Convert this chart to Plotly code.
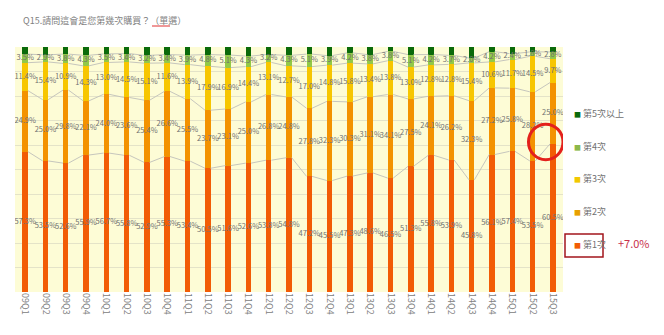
import plotly.graph_objects as go

# Quarterly survey: share of respondents by purchase count (stacked to 100%)
quarters = ["09Q1", "09Q2", "09Q3", "09Q4", "10Q1", "10Q2", "10Q3", "10Q4",
            "11Q1", "11Q2", "11Q3", "11Q4", "12Q1", "12Q2", "12Q3", "12Q4",
            "13Q1", "13Q2", "13Q3", "13Q4", "14Q1", "14Q2", "14Q3", "14Q4",
            "15Q1", "15Q2", "15Q3"]

first = [57.3, 53.5, 52.6, 55.9, 56.7, 55.8, 52.9, 55.3, 53.4, 50.5, 51.6, 52.6, 53.8, 54.8,
         47.2, 45.5, 47.3, 48.6, 46.5, 51.3, 55.8, 53.9, 45.8, 56.1, 57.4, 53.5, 60.5]
second = [24.9, 25.0, 29.8, 22.1, 24.0, 23.6, 25.4, 26.6, 25.5, 23.7, 23.1, 25.0, 26.8, 24.8,
          27.8, 32.3, 30.3, 31.1, 34.1, 27.5, 24.1, 26.2, 32.3, 27.2, 25.8, 28.2, 25.0]
third = [11.4, 15.4, 10.9, 14.3, 13.0, 14.5, 15.1, 11.6, 13.9, 17.9, 16.9, 14.4, 13.1, 12.7,
         17.0, 14.8, 15.8, 13.4, 13.8, 13.0, 12.8, 12.8, 15.4, 10.6, 11.7, 14.5, 9.7]
fourth = [3.5, 2.9, 3.8, 4.3, 3.5, 3.4, 3.2, 3.4, 3.9, 4.8, 5.1, 4.3, 3.2, 4.3,
          5.1, 3.9, 4.2, 3.8, 3.8, 5.1, 4.2, 3.7, 2.0, 4.2, 2.4, 1.8, 2.8]
fifth_plus = [2.9, 3.2, 2.9, 3.4, 2.8, 2.7, 3.4, 3.1, 3.3, 3.1, 3.3, 3.7, 3.1, 3.4,
              2.9, 3.5, 2.4, 3.1, 1.8, 3.1, 3.1, 3.4, 4.5, 1.9, 2.7, 2.0, 2.0]

series_names = ["第1次", "第2次", "第3次", "第4次", "第5次以上"]
series_vals = [first, second, third, fourth, fifth_plus]
series_colors = ["#F25C05", "#F39200", "#F7C600", "#92C848", "#0A6A0A"]
legend_colors = ["#F25C05", "#E8A000", "#F2C800", "#8CB84A", "#0A6A0A"]

FONT = "Noto Sans CJK TC"
W, H = 664, 335
ML, MR, MT, MB = 15, 101, 47, 43
PW, PH = W - ML - MR, H - MT - MB


def px_x(px):
    return (px - ML) / PW


def px_y(py):
    return (H - MB - py) / PH


n = len(quarters)
xs = list(range(n))
bar_w = 0.27

fig = go.Figure()

# stacked bars
for name, vals, col in zip(series_names, series_vals, series_colors):
    fig.add_bar(x=xs, y=vals, width=bar_w, name=name, marker=dict(color=col, line=dict(width=0)),
                showlegend=False, hoverinfo="skip")

# cumulative boundaries
bases, tops = [], []
run = [0.0] * n
for vals in series_vals:
    bases.append(run)
    run = [r + v for r, v in zip(run, vals)]
    tops.append(run)

# series lines joining segment boundaries between neighbouring bars
for top in tops[:-1]:
    lx, ly = [], []
    for i in range(n - 1):
        lx += [i + bar_w / 2, i + 1 - bar_w / 2, None]
        ly += [top[i], top[i + 1], None]
    fig.add_scatter(x=lx, y=ly, mode="lines", line=dict(color="#c6c6bd", width=1),
                    hoverinfo="skip", showlegend=False)

# percentage labels at segment centres (top segment unlabeled)
for k in range(4):
    vals = series_vals[k]
    fig.add_scatter(x=xs, y=[b + v / 2 for b, v in zip(bases[k], vals)], mode="text",
                    text=[f"{v:.1f}%" for v in vals], textposition="middle center",
                    textfont=dict(family=FONT, size=7.5, color="#707070"),
                    hoverinfo="skip", showlegend=False)

annotations = []
shapes = []

# title
annotations.append(dict(text="Q15.請問這會是您第幾次購買？（單選）", xref="paper", yref="paper",
                        x=px_x(21), y=px_y(20), xanchor="left", yanchor="middle", showarrow=False,
                        font=dict(family=FONT, size=9, color="#808080")))
shapes.append(dict(type="line", xref="paper", yref="paper", x0=px_x(152), x1=px_x(170),
                   y0=px_y(26), y1=px_y(26), line=dict(color="#E03030", width=1)))

# legend entries, top to bottom: 第5次以上 ... 第1次
for k, (name, col) in enumerate(zip(series_names, legend_colors)):
    annotations.append(dict(
        text=f"<span style='color:{col};font-size:7px'>■</span> {name}",
        xref="paper", yref="paper", x=px_x(572), y=px_y(244.3 - 32.7 * k),
        xanchor="left", yanchor="middle", showarrow=False,
        font=dict(family=FONT, size=9, color="#707070")))

# highlight box on 第1次 and its latest change
shapes.append(dict(type="rect", xref="paper", yref="paper", x0=px_x(565), x1=px_x(603),
                   y0=px_y(257), y1=px_y(234), line=dict(color="#A3161C", width=1.5)))
change = first[-1] - first[-2]
annotations.append(dict(text=f"{change:+.1f}%", xref="paper", yref="paper",
                        x=px_x(616), y=px_y(243), xanchor="left", yanchor="middle",
                        showarrow=False, font=dict(family=FONT, size=11, color="#C8304A")))

# red circle around the last two quarters
shapes.append(dict(type="circle", xref="x", yref="y", x0=n - 2.2, x1=n - 0.5,
                   y0=54.0, y1=68.5, line=dict(color="#E3211C", width=3)))

fig.update_layout(
    width=W, height=H,
    margin=dict(l=ML, r=MR, t=MT, b=MB),
    barmode="stack",
    paper_bgcolor="white",
    plot_bgcolor="#FDFCD6",
    font=dict(family=FONT, size=9, color="#707070"),
    xaxis=dict(range=[-0.5, n - 0.5], tickvals=xs, ticktext=quarters, tickangle=90,
               showgrid=False, zeroline=False, showline=False, ticks="",
               tickfont=dict(family=FONT, size=9, color="#808080")),
    yaxis=dict(range=[0, 100], dtick=10, showticklabels=False, showgrid=True,
               gridcolor="#E4E3C8", gridwidth=1, zeroline=False, showline=False),
    annotations=annotations,
    shapes=shapes,
    showlegend=False,
)

fig.write_html("out.html")
